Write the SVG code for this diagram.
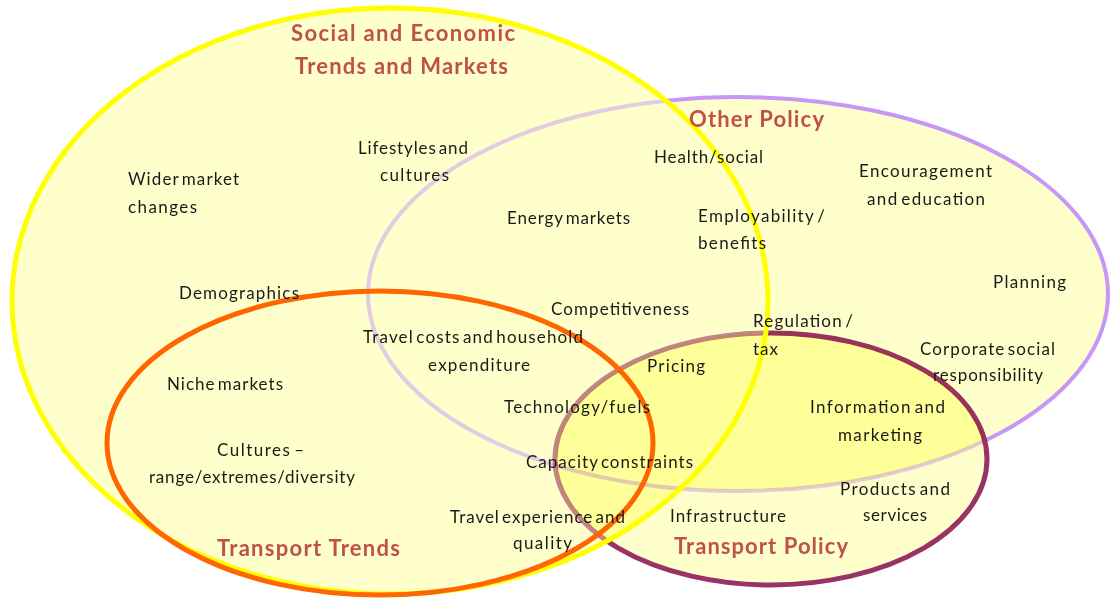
<svg xmlns="http://www.w3.org/2000/svg" width="1110" height="598" viewBox="0 0 1110 598">
  <defs>
    <!-- set outlines, reused for fills, strokes, masks and clips -->
    <ellipse id="shOther" cx="738" cy="294" rx="370" ry="197"/>
    <ellipse id="shTP" cx="771" cy="459" rx="216" ry="126"/>
    <ellipse id="shSocial" cx="390" cy="301" rx="378" ry="293"/>
    <ellipse id="shTrends" cx="380" cy="443" rx="273" ry="152"/>

    <!-- outlines lying under a later set are shown at half strength -->
    <mask id="mOther" maskUnits="userSpaceOnUse" x="0" y="0" width="1110" height="598" color-interpolation="sRGB">
      <rect width="1110" height="598" fill="#ffffff"/>
      <use href="#shTP" fill="#808080"/>
      <use href="#shSocial" fill="#808080"/>
      <use href="#shTrends" fill="#808080"/>
    </mask>
    <mask id="mTP" maskUnits="userSpaceOnUse" x="0" y="0" width="1110" height="598" color-interpolation="sRGB">
      <rect width="1110" height="598" fill="#ffffff"/>
      <use href="#shSocial" fill="#999999"/>
      <use href="#shTrends" fill="#999999"/>
    </mask>
    <clipPath id="cTP"><use href="#shTP"/></clipPath>

    <style>
      .fill { fill: #ffffcc; stroke: none; }
      .line { fill: none; }
      .title { font-family: Lato, "Liberation Sans", sans-serif; font-weight: 700; font-size: 22px; fill: #c0504d; }
      .item { font-family: Lato, "Liberation Sans", sans-serif; font-size: 17px; word-spacing: -3px; fill: #1a1a1a; }
    </style>
  </defs>

  <rect width="1110" height="598" fill="#ffffff"/>

  <!-- pale yellow body shared by all sets -->
  <g id="set-fills">
    <use href="#shOther" class="fill"/>
    <use href="#shTP" class="fill"/>
    <use href="#shSocial" class="fill"/>
    <use href="#shTrends" class="fill"/>
  </g>

  <!-- Other Policy -->
  <g id="other-policy">
    <use href="#shOther" class="line" stroke="#c797f7" stroke-width="4" mask="url(#mOther)"/>
  </g>

  <!-- Transport Policy -->
  <g id="transport-policy">
    <use href="#shTP" class="line" stroke="#993366" stroke-width="5" mask="url(#mTP)"/>
  </g>

  <!-- Social and Economic Trends and Markets -->
  <g id="social-economic">
    <use href="#shSocial" class="line" stroke="#ffff00" stroke-width="5"/>
  </g>

  <!-- Transport Trends -->
  <g id="transport-trends">
    <use href="#shTrends" class="line" stroke="#ff6600" stroke-width="5"/>
  </g>

  <!-- Transport Policy shared with any other set: deeper yellow -->
  <g id="policy-overlap" style="mix-blend-mode:multiply">
    <g clip-path="url(#cTP)">
      <use href="#shOther" fill="#ffffbf"/>
      <use href="#shSocial" fill="#ffffbf"/>
      <use href="#shTrends" fill="#ffffbf"/>
    </g>
  </g>

  <!-- set titles -->
  <g id="titles">
    <text class="title" x="291" y="41" textLength="224">Social and Economic</text>
    <text class="title" x="295" y="74" textLength="213">Trends and Markets</text>
    <text class="title" x="689" y="127" textLength="135">Other Policy</text>
    <text class="title" x="217" y="556" textLength="183">Transport Trends</text>
    <text class="title" x="674" y="554" textLength="174">Transport Policy</text>
  </g>

  <!-- factors placed in the sets -->
  <g id="items">
    <g id="wider-market"><text class="item" x="128" y="185" textLength="111">Wider market</text><text class="item" x="128" y="213" textLength="69">changes</text></g>
    <g id="lifestyles"><text class="item" x="358" y="154" textLength="110">Lifestyles and</text><text class="item" x="380" y="181" textLength="69">cultures</text></g>
    <g id="health"><text class="item" x="654" y="163" textLength="109">Health/social</text></g>
    <g id="encouragement"><text class="item" x="859" y="177" textLength="133">Encouragement</text><text class="item" x="867" y="205" textLength="118">and education</text></g>
    <g id="energy"><text class="item" x="507" y="224" textLength="123">Energy markets</text></g>
    <g id="employability"><text class="item" x="698" y="222" textLength="127">Employability /</text><text class="item" x="698" y="249" textLength="68">benefits</text></g>
    <g id="planning"><text class="item" x="993" y="288" textLength="73">Planning</text></g>
    <g id="demographics"><text class="item" x="179" y="299" textLength="120">Demographics</text></g>
    <g id="competitiveness"><text class="item" x="551" y="315" textLength="138">Competitiveness</text></g>
    <g id="regulation"><text class="item" x="753" y="327" textLength="100">Regulation /</text><text class="item" x="753" y="355" textLength="25">tax</text></g>
    <g id="travel-costs"><text class="item" x="363" y="343" textLength="220">Travel costs and household</text><text class="item" x="428" y="371" textLength="102">expenditure</text></g>
    <g id="pricing"><text class="item" x="647" y="372" textLength="58">Pricing</text></g>
    <g id="csr"><text class="item" x="920" y="355" textLength="135">Corporate social</text><text class="item" x="933" y="381" textLength="110">responsibility</text></g>
    <g id="niche"><text class="item" x="167" y="390" textLength="116">Niche markets</text></g>
    <g id="technology"><text class="item" x="504" y="413" textLength="146">Technology/fuels</text></g>
    <g id="information"><text class="item" x="810" y="413" textLength="135">Information and</text><text class="item" x="838" y="441" textLength="84">marketing</text></g>
    <g id="cultures"><text class="item" x="217" y="456" textLength="87">Cultures –</text><text class="item" x="149" y="483" textLength="206">range/extremes/diversity</text></g>
    <g id="capacity"><text class="item" x="526" y="468" textLength="167">Capacity constraints</text></g>
    <g id="products"><text class="item" x="840" y="495" textLength="110">Products and</text><text class="item" x="863" y="521" textLength="64">services</text></g>
    <g id="travel-experience"><text class="item" x="450" y="523" textLength="175">Travel experience and</text><text class="item" x="513" y="549" textLength="59">quality</text></g>
    <g id="infrastructure"><text class="item" x="670" y="522" textLength="116">Infrastructure</text></g>
  </g>

  <!-- no connectors in this diagram -->
  <g id="connectors"/>
</svg>
